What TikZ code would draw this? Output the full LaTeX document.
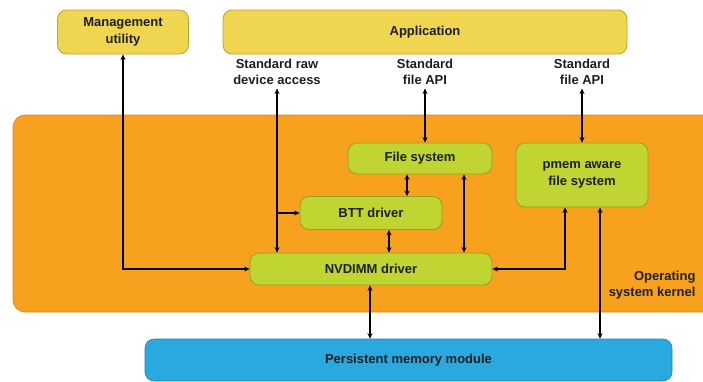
\documentclass[tikz,border=0pt]{standalone}
\usepackage{fontspec}
\setmainfont{Liberation Sans}
\usetikzlibrary{arrows.meta}

\definecolor{appyellow}{RGB}{240,214,80}
\definecolor{appedge}{RGB}{196,160,50}
\definecolor{kernorange}{RGB}{247,161,30}
\definecolor{kernedge}{RGB}{214,135,30}
\definecolor{drvgreen}{RGB}{192,212,50}
\definecolor{drvedge}{RGB}{150,160,40}
\definecolor{memblue}{RGB}{42,168,224}
\definecolor{memedge}{RGB}{30,130,185}
\definecolor{txt}{RGB}{30,30,30}

\tikzset{
  userbox/.style={draw=appedge, fill=appyellow, rounded corners=9pt, line width=0.8pt, align=center},
  drvbox/.style={draw=drvedge, fill=drvgreen, rounded corners=9pt, line width=0.8pt, align=center},
  link/.style={<->, line width=1.2pt, draw=black}
}

\begin{document}
\begin{tikzpicture}[x=1pt, y=-1pt, >={Stealth[length=5.5pt,width=5pt]},
  every node/.style={font=\bfseries\fontsize{13}{16.5}\selectfont, text=txt}]

  \useasboundingbox (0,0) rectangle (703,381);

  % kernel area
  \draw[draw=kernedge, fill=kernorange, rounded corners=12pt, line width=0.6pt] (13,115) rectangle (740,312);
  \node[anchor=east, align=right] (kernel) at (699,285) {Operating\\system kernel};

  % positions
  \node[userbox, minimum width=131pt, minimum height=44pt] (mgmt) at (123,32) {Management\\utility};
  \node[userbox, minimum width=404pt, minimum height=44pt] (app) at (425,32) {Application};

  \node[align=center] (rawlbl) at (277,72) {Standard raw\\device access};
  \node[align=center] (filelbl) at (425,72) {Standard\\file API};
  \node[align=center] (pmemlbl) at (582,72) {Standard\\file API};

  \node[drvbox, minimum width=144pt, minimum height=31pt] (fs) at (420,158.5) {File system};
  \node[drvbox, minimum width=142pt, minimum height=33pt] (btt) at (371,213) {BTT driver};
  \node[drvbox, minimum width=242pt, minimum height=32pt] (nvdimm) at (371,269) {NVDIMM driver};
  \node[drvbox, minimum width=132pt, minimum height=64pt] (pmem) at (582,175) {pmem aware\\file system};

  \node[draw=memedge, fill=memblue, rounded corners=9pt, line width=0.6pt,
        minimum width=527pt, minimum height=42pt] (persist) at (408.5,360) {Persistent memory module};

  % arrows
  \draw[link] (mgmt.south) |- (nvdimm.west);                                   % utility <-> driver
  \draw[link] (rawlbl.south) -- (rawlbl.south |- nvdimm.north);                 % raw access
  \coordinate (rawsplit) at (rawlbl.south |- btt.west);
  \draw[->, line width=1.2pt] (rawsplit) -- (btt.west);                         % raw access -> BTT
  \draw[link] (filelbl.south) -- (filelbl.south |- fs.north);                   % file API
  \draw[link] ([xshift=-13pt]fs.south) -- ([xshift=-13pt]fs.south |- btt.north);
  \draw[link] ([xshift=18pt]btt.south) -- ([xshift=18pt]btt.south |- nvdimm.north);
  \draw[link] ([xshift=44pt]fs.south) -- ([xshift=44pt]fs.south |- nvdimm.north);
  \draw[link] (pmemlbl.south) -- (pmemlbl.south |- pmem.north);                % pmem file API
  \draw[link] ([xshift=-17pt]pmem.south) |- (nvdimm.east);
  \draw[link] ([xshift=18pt]pmem.south) -- ([xshift=18pt]pmem.south |- persist.north);
  \draw[link] ([xshift=-1pt]nvdimm.south) -- ([xshift=-1pt]nvdimm.south |- persist.north);

\end{tikzpicture}
\end{document}
